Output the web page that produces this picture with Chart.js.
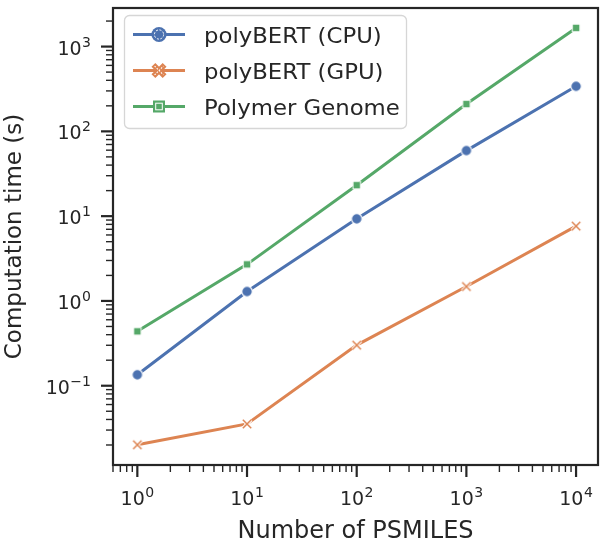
<!DOCTYPE html>
<html>
<head>
<meta charset="utf-8">
<script src="https://cdn.jsdelivr.net/npm/chart.js@4.4.0/dist/chart.umd.min.js"></script>
<style>
  html, body { margin: 0; padding: 0; background: #fff; }
  #wrap { width: 606px; height: 542px; }
</style>
</head>
<body>
<div id="wrap"><canvas id="chart"></canvas></div>
<script>
// values (log-log)
const nPsmiles = [1, 10, 100, 1000, 10000];
const cpuTimes = [0.1345, 1.29, 9.3, 59.3, 340];
const gpuTimes = [0.0201, 0.0354, 0.301, 1.48, 7.63];
const genomeTimes = [0.438, 2.70, 23.2, 210, 1660];
const seriesLabels = ['polyBERT (CPU)', 'polyBERT (GPU)', 'Polymer Genome'];
const xTickExponents = [0, 1, 2, 3, 4];
const yTickExponents = [-1, 0, 1, 2, 3];

const BLUE = '#4c72b0';
const ORANGE = '#dd8452';
const GREEN = '#55a868';
const INK = '#262626';
const FONT = '"DejaVu Sans", sans-serif';

function paintMarker(ctx, kind, color, cx, cy, big) {
    ctx.save();
    if (kind === 'circle') {
        const r = big ? 7.6 : 5.3;
        ctx.beginPath();
        ctx.arc(cx, cy, r, 0, Math.PI * 2);
        ctx.fillStyle = color;
        ctx.fill();
        ctx.strokeStyle = '#fff';
        if (big) {
            ctx.beginPath();
            ctx.arc(cx, cy, 4.6, 0, Math.PI * 2);
            ctx.lineWidth = 1;
            ctx.setLineDash([2, 1.6]);
        } else {
            ctx.lineWidth = 1.2;
        }
        ctx.stroke();
    } else if (kind === 'square') {
        const h = big ? 6 : 3.8;
        ctx.fillStyle = color;
        ctx.fillRect(cx - h, cy - h, 2 * h, 2 * h);
        ctx.strokeStyle = '#fff';
        ctx.lineWidth = 1;
        if (big) {
            ctx.strokeRect(cx - 3.3, cy - 3.3, 6.6, 6.6);
        } else {
            ctx.strokeRect(cx - h, cy - h, 2 * h, 2 * h);
        }
    } else {
        const a = big ? 5.6 : 4.2;
        const cross = (len) => {
            ctx.beginPath();
            ctx.moveTo(cx - len, cy - len); ctx.lineTo(cx + len, cy + len);
            ctx.moveTo(cx - len, cy + len); ctx.lineTo(cx + len, cy - len);
            ctx.stroke();
        };
        ctx.lineCap = 'butt';
        if (big) {
            ctx.strokeStyle = color; ctx.lineWidth = 5.5; cross(a);
            ctx.strokeStyle = '#fff'; ctx.lineWidth = 1.1; ctx.setLineDash([1.6, 1.4]); cross(a - 1.2);
        } else {
            ctx.strokeStyle = '#fff'; ctx.lineWidth = 3.4; cross(a);
            ctx.strokeStyle = color; ctx.lineWidth = 1.5; cross(a);
        }
    }
    ctx.restore();
}

function markerCanvas(kind, color) {
    const c = document.createElement('canvas');
    c.width = 16; c.height = 16;
    paintMarker(c.getContext('2d'), kind, color, 8, 8, false);
    return c;
}

const markerKinds = ['circle', 'x', 'square'];
const seriesColors = [BLUE, ORANGE, GREEN];
const seriesValues = [cpuTimes, gpuTimes, genomeTimes];

function drawPow(ctx, x, y, exp, align) {
    const base = '10';
    const sup = exp < 0 ? '\u2212' + Math.abs(exp) : String(exp);
    ctx.font = '19px ' + FONT;
    const wb = ctx.measureText(base).width;
    ctx.font = '14px ' + FONT;
    const ws = ctx.measureText(sup).width;
    const total = wb + ws + 0.5;
    let x0 = align === 'center' ? x - total / 2 : x - total;
    ctx.textAlign = 'left';
    ctx.textBaseline = 'alphabetic';
    ctx.font = '19px ' + FONT;
    ctx.fillText(base, x0, y);
    ctx.font = '14px ' + FONT;
    ctx.fillText(sup, x0 + wb + 0.5, y - 8);
}

const mplAxes = {
    id: 'mplAxes',
    afterDraw(chart) {
        const ctx = chart.ctx;
        const area = chart.chartArea;
        const xs = chart.scales.x;
        const ys = chart.scales.y;
        ctx.save();
        ctx.strokeStyle = INK;
        ctx.fillStyle = INK;

        // tick marks, majors at decades, minors 2..9
        const ticksFor = (scale) => {
            const out = [];
            const e0 = Math.floor(Math.log10(scale.min));
            const e1 = Math.ceil(Math.log10(scale.max));
            for (let e = e0; e <= e1; e++) {
                for (let k = 1; k <= 9; k++) {
                    const v = k * Math.pow(10, e);
                    if (v < scale.min || v > scale.max) continue;
                    out.push({ p: scale.getPixelForValue(v), major: k === 1 });
                }
            }
            return out;
        };
        ticksFor(xs).forEach(t => {
            ctx.lineWidth = t.major ? 2.2 : 1.4;
            ctx.beginPath();
            ctx.moveTo(t.p, area.bottom);
            ctx.lineTo(t.p, area.bottom + (t.major ? 12 : 7));
            ctx.stroke();
        });
        ticksFor(ys).forEach(t => {
            ctx.lineWidth = t.major ? 2.2 : 1.4;
            ctx.beginPath();
            ctx.moveTo(area.left, t.p);
            ctx.lineTo(area.left - (t.major ? 12 : 7), t.p);
            ctx.stroke();
        });

        // frame
        ctx.lineWidth = 2.2;
        ctx.strokeRect(area.left, area.top, area.right - area.left, area.bottom - area.top);

        // tick labels
        xTickExponents.forEach(e => {
            drawPow(ctx, xs.getPixelForValue(Math.pow(10, e)), area.bottom + 40, e, 'center');
        });
        yTickExponents.forEach(e => {
            drawPow(ctx, area.left - 22, ys.getPixelForValue(Math.pow(10, e)) + 8, e, 'right');
        });

        // axis titles
        ctx.textAlign = 'center';
        ctx.textBaseline = 'alphabetic';
        ctx.font = '24px ' + FONT;
        ctx.fillText('Number of PSMILES', (area.left + area.right) / 2, 538);
        ctx.save();
        ctx.translate(21, (area.top + area.bottom) / 2);
        ctx.rotate(-Math.PI / 2);
        ctx.font = '23px ' + FONT;
        ctx.fillText('Computation time (s)', 0, 0);
        ctx.restore();

        // legend box in the upper left corner
        const bx = 124.5, by = 15.5, bw = 282, bh = 113, rr = 5;
        ctx.beginPath();
        ctx.moveTo(bx + rr, by);
        ctx.arcTo(bx + bw, by, bx + bw, by + bh, rr);
        ctx.arcTo(bx + bw, by + bh, bx, by + bh, rr);
        ctx.arcTo(bx, by + bh, bx, by, rr);
        ctx.arcTo(bx, by, bx + bw, by, rr);
        ctx.closePath();
        ctx.fillStyle = 'rgba(255,255,255,0.8)';
        ctx.fill();
        ctx.strokeStyle = '#d6d6d6';
        ctx.lineWidth = 1.3;
        ctx.stroke();

        chart.data.datasets.forEach((ds, i) => {
            const ry = 34.5 + i * 36;
            ctx.strokeStyle = ds.borderColor;
            ctx.lineWidth = 3;
            ctx.beginPath();
            ctx.moveTo(133, ry);
            ctx.lineTo(185, ry);
            ctx.stroke();
            paintMarker(ctx, markerKinds[i], ds.borderColor, 159, ry, true);
            // legend text is a bit wider than the font, stretch it a little
            ctx.save();
            ctx.translate(204, ry + 8);
            ctx.scale(1.06, 1);
            ctx.fillStyle = INK;
            ctx.font = '21.5px ' + FONT;
            ctx.textAlign = 'left';
            ctx.fillText(ds.label, 0, 0);
            ctx.restore();
        });
        ctx.restore();
    }
};

const datasets = seriesLabels.map((label, i) => ({
    label: label,
    data: nPsmiles.map((n, j) => ({ x: n, y: seriesValues[i][j] })),
    borderColor: seriesColors[i],
    backgroundColor: seriesColors[i],
    borderWidth: 3,
    tension: 0,
    fill: false,
    pointStyle: markerCanvas(markerKinds[i], seriesColors[i]),
    pointRadius: 5,
    pointHoverRadius: 5
}));

new Chart(document.getElementById('chart').getContext('2d'), {
    type: 'line',
    data: { datasets: datasets },
    options: {
        responsive: true,
        maintainAspectRatio: false,
        animation: false,
        layout: { padding: { top: 4, right: 3, left: 0, bottom: 0 } },
        plugins: { legend: { display: false }, tooltip: { enabled: false } },
        scales: {
            x: {
                type: 'logarithmic',
                min: Math.pow(10, -0.2),
                max: Math.pow(10, 4.2),
                ticks: { display: false },
                grid: { display: false },
                border: { display: false },
                afterFit: (s) => { s.height = 77; }
            },
            y: {
                type: 'logarithmic',
                min: Math.pow(10, -1.935),
                max: Math.pow(10, 3.455),
                ticks: { display: false },
                grid: { display: false },
                border: { display: false },
                afterFit: (s) => { s.width = 113; }
            }
        }
    },
    plugins: [mplAxes]
});
</script>
</body>
</html>
